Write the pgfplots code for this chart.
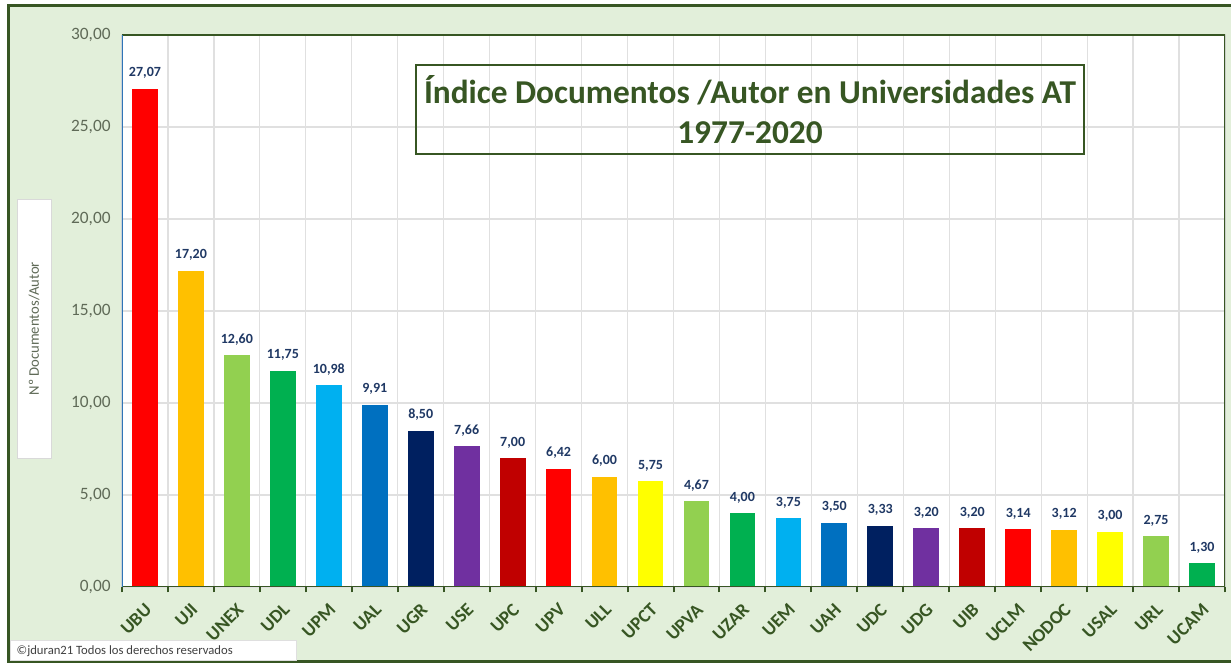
\documentclass[border=0pt]{standalone}
\usepackage{pgfplots}
\pgfplotsset{compat=1.18}
\usepackage{fontspec}
\setmainfont{Carlito}
\definecolor{bggreen}{HTML}{E2EFDA}
\definecolor{dkgreen}{HTML}{375623}
\definecolor{axblue}{HTML}{2E75B6}
\definecolor{navy}{HTML}{1F3864}
\definecolor{tickgray}{HTML}{5F6A57}
\definecolor{cRed}{HTML}{FF0000}
\definecolor{cOrange}{HTML}{FFC000}
\definecolor{cLgreen}{HTML}{92D050}
\definecolor{cGreen}{HTML}{00B050}
\definecolor{cLblue}{HTML}{00B0F0}
\definecolor{cBlue}{HTML}{0070C0}
\definecolor{cDblue}{HTML}{002060}
\definecolor{cPurple}{HTML}{7030A0}
\definecolor{cDred}{HTML}{C00000}
\definecolor{cYellow}{HTML}{FFFF00}
\begin{document}
\begin{tikzpicture}[x=0.75pt,y=0.75pt]
\useasboundingbox (0,0) rectangle (1231,666);
% background and frame
\fill[bggreen] (8,4) rectangle (1240,660);
\draw[dkgreen, line width=2.25pt] (8,4) rectangle (1240,660);
% copyright box
\node[draw=gray!25, fill=white, minimum width=214.5pt, minimum height=15pt, anchor=south west, inner sep=0pt] at (10,5) {};
\node[anchor=west, text=black!75, font=\fontsize{9.5}{11}\selectfont] at (12,15) {©jduran21 Todos los derechos reservados};
\begin{axis}[
  at={(91.5pt,59.25pt)}, anchor=south west,
  width=827.25pt, height=414pt, scale only axis,
  axis background/.style={fill=white},
  ybar,
  xmin=-0.5, xmax=23.5, ymin=0, ymax=30,
  ytick={0,5,10,15,20,25,30},
  xtick={0,...,23},
  xticklabels={UBU,UJI,UNEX,UDL,UPM,UAL,UGR,USE,UPC,UPV,ULL,UPCT,UPVA,UZAR,UEM,UAH,UDC,UDG,UIB,UCLM,NODOC,USAL,URL,UCAM},
  minor xtick={-0.5,0.5,1.5,2.5,3.5,4.5,5.5,6.5,7.5,8.5,9.5,10.5,11.5,12.5,13.5,14.5,15.5,16.5,17.5,18.5,19.5,20.5,21.5,22.5,23.5},
  xminorgrids=true, ymajorgrids=true, xmajorgrids=false,
  grid style={black!12, line width=0.9pt},
  minor grid style={black!12, line width=0.9pt},
  major tick length=0pt, minor tick length=4pt,
  tick align=outside,
  xtick pos=lower, ytick pos=left,
  minor tick style={dkgreen, line width=1.5pt},
  axis line style={draw=none},
  /pgf/number format/.cd, fixed, fixed zerofill, precision=2, use comma, assume math mode=true,
  /pgfplots/.cd,
  yticklabel style={text=tickgray, font=\fontsize{13}{15}\selectfont, xshift=-5pt},
  xticklabel style={xshift=3.5pt, yshift=-14pt, rotate=45, anchor=east, text=dkgreen, font=\bfseries\fontsize{14}{16}\selectfont, inner sep=1pt},
  bar width=0.56,
  nodes near coords,
  every node near coord/.append style={text=navy, font=\bfseries\fontsize{10.5}{12}\selectfont, yshift=4pt},
  ylabel={Nº Documentos/Autor},
  every axis y label/.style={at={(rel axis cs:0,0.468)}, xshift=-66pt, rotate=90, anchor=center,
    draw=black!15, fill=white, minimum width=194pt, minimum height=25.5pt, inner sep=0pt,
    text=tickgray, font=\fontsize{11}{13}\selectfont},
]
\addplot[fill=cRed, draw=none, bar shift=0pt] coordinates {(0,27.07)};
\addplot[fill=cOrange, draw=none, bar shift=0pt] coordinates {(1,17.20)};
\addplot[fill=cLgreen, draw=none, bar shift=0pt] coordinates {(2,12.60)};
\addplot[fill=cGreen, draw=none, bar shift=0pt] coordinates {(3,11.75)};
\addplot[fill=cLblue, draw=none, bar shift=0pt] coordinates {(4,10.98)};
\addplot[fill=cBlue, draw=none, bar shift=0pt] coordinates {(5,9.91)};
\addplot[fill=cDblue, draw=none, bar shift=0pt] coordinates {(6,8.50)};
\addplot[fill=cPurple, draw=none, bar shift=0pt] coordinates {(7,7.66)};
\addplot[fill=cDred, draw=none, bar shift=0pt] coordinates {(8,7.00)};
\addplot[fill=cRed, draw=none, bar shift=0pt] coordinates {(9,6.42)};
\addplot[fill=cOrange, draw=none, bar shift=0pt] coordinates {(10,6.00)};
\addplot[fill=cYellow, draw=none, bar shift=0pt] coordinates {(11,5.75)};
\addplot[fill=cLgreen, draw=none, bar shift=0pt] coordinates {(12,4.67)};
\addplot[fill=cGreen, draw=none, bar shift=0pt] coordinates {(13,4.00)};
\addplot[fill=cLblue, draw=none, bar shift=0pt] coordinates {(14,3.75)};
\addplot[fill=cBlue, draw=none, bar shift=0pt] coordinates {(15,3.50)};
\addplot[fill=cDblue, draw=none, bar shift=0pt] coordinates {(16,3.33)};
\addplot[fill=cPurple, draw=none, bar shift=0pt] coordinates {(17,3.20)};
\addplot[fill=cDred, draw=none, bar shift=0pt] coordinates {(18,3.20)};
\addplot[fill=cRed, draw=none, bar shift=0pt] coordinates {(19,3.14)};
\addplot[fill=cOrange, draw=none, bar shift=0pt] coordinates {(20,3.12)};
\addplot[fill=cYellow, draw=none, bar shift=0pt] coordinates {(21,3.00)};
\addplot[fill=cLgreen, draw=none, bar shift=0pt] coordinates {(22,2.75)};
\addplot[fill=cGreen, draw=none, bar shift=0pt] coordinates {(23,1.30)};
\draw[dkgreen, line width=1.5pt] (rel axis cs:0,1) -- (rel axis cs:1,1) -- (rel axis cs:1,0) -- (rel axis cs:0,0);
\draw[axblue, line width=1.5pt] (rel axis cs:0,0) -- (rel axis cs:0,1);
\end{axis}
% title box
\node[draw=dkgreen, line width=1.5pt, minimum width=501pt, minimum height=66.75pt, align=center, inner sep=0pt,
  text=dkgreen, font=\bfseries\fontsize{25}{30}\selectfont] at (750,556.5) {Índice Documentos /Autor en Universidades AT\\1977-2020};
\end{tikzpicture}
\end{document}
